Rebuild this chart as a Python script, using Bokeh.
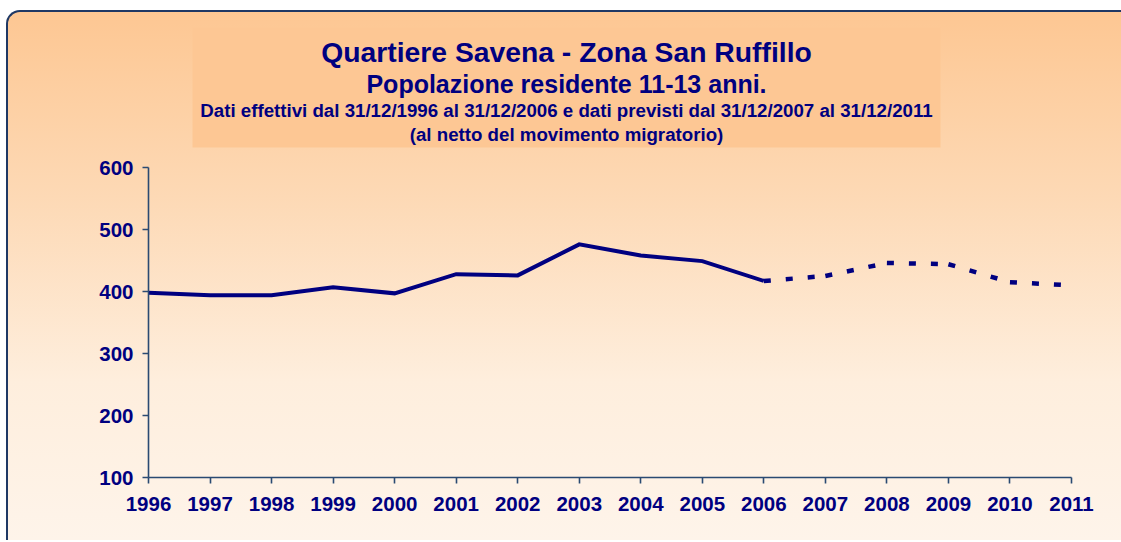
from bokeh.plotting import figure
from bokeh.models import Range1d, FixedTicker
from bokeh.core.properties import value
from bokeh.embed import file_html
from bokeh.resources import INLINE

# ---------------- data ----------------
years = list(range(1996, 2012))
actual_years = years[:11]
actual = [398, 394, 394, 407, 397, 428, 426, 476, 458, 449, 417]
forecast_years = years[10:]
forecast = [417, 425, 446, 444, 415, 410]
y_ticks = [100, 200, 300, 400, 500, 600]
title_lines = [
    "Quartiere Savena - Zona San Ruffillo",
    "Popolazione residente 11-13 anni.",
    "Dati effettivi dal 31/12/1996 al 31/12/2006 e dati previsti dal 31/12/2007 al 31/12/2011",
    "(al netto del movimento migratorio)",
]

# ---------------- layout ----------------
NAVY = "#000080"
AXIS = "#2A4A72"
FONT = "Liberation Sans"
W, H = 1115, 530
LEFT, BOTTOM = 140, 65
PAGE_X0, PAGE_Y0 = 8, 12             # page position of the canvas origin
frame_w = W - LEFT
frame_h = H - BOTTOM
x_axis_px, x_end_px = 148, 1071      # page x of first/last year
y_low_px, y_high_px = 477, 167       # page y of 100 / 600
x_per = (x_end_px - x_axis_px) / (years[-1] - years[0])
y_per = (y_low_px - y_high_px) / (y_ticks[-1] - y_ticks[0])


def X(px):
    return years[0] + (px - x_axis_px) / x_per


def Y(py):
    return y_ticks[0] + (y_low_px - py) / y_per


p = figure(
    width=W, height=H,
    x_range=Range1d(years[0], years[0] + frame_w / x_per),
    y_range=Range1d(y_ticks[0], y_ticks[0] + frame_h / y_per),
    output_backend="svg", toolbar_location=None, title=None,
    min_border_left=LEFT, min_border_right=0, min_border_top=0,
    min_border_bottom=BOTTOM,
)
p.background_fill_alpha = 0
p.border_fill_alpha = 0
p.outline_line_color = None
p.xgrid.visible = False
p.ygrid.visible = False
p.styles = {
    "box-sizing": "border-box",
    "margin-left": f"{PAGE_X0 - 2}px",
    "margin-top": f"{PAGE_Y0 - 2}px",
    "border-top": "2px solid #1F3864",
    "border-left": "2px solid #1F3864",
    "border-top-left-radius": "14px",
    "background": "linear-gradient(180deg, #FDC793 0%, #FDD9B5 35%, #FEEEDD 70%, #FEF4EA 100%)",
}

# title box
p.quad(left=[X(192)], right=[X(940)], top=[Y(27)], bottom=[Y(147)],
       fill_color="#FDC794", line_color=None)

sizes = ["28.3px", "25px", "18.7px", "18.7px"]
baselines = [51.5, 83.5, 110, 133.5]
for txt, sz, bl in zip(title_lines, sizes, baselines):
    p.text(x=[X(566)], y=[Y(bl)], text=[txt], text_align="center",
           text_baseline="alphabetic", text_color=NAVY,
           text_font=value(FONT), text_font_style="bold", text_font_size=sz)

# lines
p.line(actual_years, actual, line_color=NAVY, line_width=4, line_join="miter")
p.segment(x0=forecast_years[:-1], y0=forecast[:-1], x1=forecast_years[1:], y1=forecast[1:],
          line_color=NAVY, line_width=4.5, line_dash="7 15")

# axes
xa = p.xaxis[0]
xa.ticker = FixedTicker(ticks=years)
xa.bounds = (years[0], years[-1])
ya = p.yaxis[0]
ya.ticker = FixedTicker(ticks=y_ticks)
ya.bounds = (y_ticks[0], y_ticks[-1])
for ax in (xa, ya):
    ax.axis_line_color = AXIS
    ax.axis_line_width = 1.6
    ax.major_tick_line_color = AXIS
    ax.major_tick_line_width = 1.6
    ax.major_tick_in = 0
    ax.major_tick_out = 6
    ax.minor_tick_line_color = None
    ax.major_label_text_font = FONT
    ax.major_label_text_font_style = "bold"
    ax.major_label_text_font_size = "20.5px"
    ax.major_label_text_color = NAVY
xa.major_label_standoff = 13
ya.major_label_standoff = 9

open("out.html", "w").write(file_html(p, INLINE))
